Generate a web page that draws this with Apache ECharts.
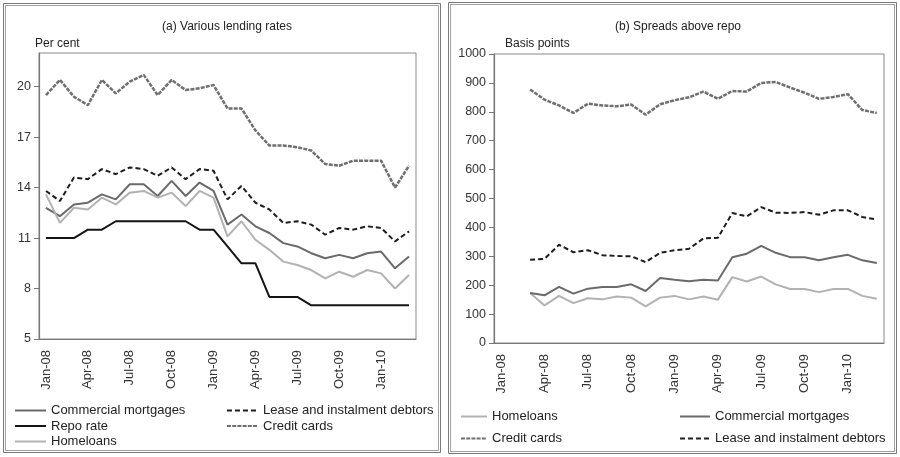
<!DOCTYPE html>
<html><head><meta charset="utf-8">
<script src="https://cdn.jsdelivr.net/npm/echarts@6/dist/echarts.min.js"></script>
<style>html,body{margin:0;padding:0;background:#fff}#c{width:900px;height:457px}</style>
</head><body><div id="c"></div>
<script>
var months = ['Jan-08','Feb-08','Mar-08','Apr-08','May-08','Jun-08','Jul-08','Aug-08','Sep-08','Oct-08','Nov-08','Dec-08',
  'Jan-09','Feb-09','Mar-09','Apr-09','May-09','Jun-09','Jul-09','Aug-09','Sep-09','Oct-09','Nov-09','Dec-09','Jan-10','Feb-10','Mar-10'];
var leftTicks = [5, 8, 11, 14, 17, 20];
var rightTicks = [0, 100, 200, 300, 400, 500, 600, 700, 800, 900, 1000];

// (a) Various lending rates, per cent
var rateCommercial = [12.8,12.3,13.0,13.1,13.6,13.3,14.2,14.2,13.5,14.4,13.5,14.3,13.8,11.8,12.4,11.7,11.3,10.7,10.5,10.1,9.8,10.0,9.8,10.1,10.2,9.2,9.9];
var rateLease = [13.8,13.2,14.6,14.5,15.1,14.8,15.2,15.1,14.7,15.2,14.5,15.1,15.0,13.3,14.1,13.1,12.7,11.9,12.0,11.8,11.2,11.6,11.5,11.7,11.6,10.8,11.4];
var rateRepo = [11,11,11,11.5,11.5,12,12,12,12,12,12,11.5,11.5,10.5,9.5,9.5,7.5,7.5,7.5,7,7,7,7,7,7,7,7];
var rateCredit = [19.5,20.4,19.4,18.9,20.4,19.6,20.3,20.7,19.5,20.4,19.8,19.9,20.1,18.7,18.7,17.4,16.5,16.5,16.4,16.2,15.4,15.3,15.6,15.6,15.6,14.0,15.3];
var rateHome = [13.6,11.9,12.8,12.7,13.4,13.0,13.7,13.8,13.4,13.7,12.9,13.8,13.4,11.1,12.0,10.9,10.3,9.6,9.4,9.1,8.6,9.0,8.7,9.1,8.9,8.0,8.8];

// (b) Spreads above repo, basis points
var sprHome = [null,null,173,130,163,138,155,151,161,157,127,157,163,151,161,150,228,213,230,203,187,187,176,187,187,163,153];
var sprCommercial = [null,null,173,165,194,171,188,194,194,203,180,225,219,214,219,216,297,309,336,312,297,297,286,297,305,286,277];
var sprCredit = [null,null,877,842,822,796,828,822,819,825,790,826,840,850,870,845,872,870,900,903,884,866,845,851,861,806,796];
var sprLease = [null,null,288,291,340,314,321,304,301,300,280,312,321,326,362,364,450,438,470,451,450,453,444,459,459,436,427];

var FONT = 'Liberation Sans, Arial, sans-serif';
var styles = {
  'Commercial mortgages': {color:'#6a6a6a', width:2, type:'solid'},
  'Lease and instalment debtors': {color:'#1e1e1e', width:2, type:[5,3]},
  'Repo rate': {color:'#141414', width:2, type:'solid'},
  'Credit cards': {color:'#6f6f6f', width:2.5, type:[4,1.2]},
  'Homeloans': {color:'#b2b2b2', width:2, type:'solid'}
};
function ser(name, data, idx) {
  var s = styles[name];
  return {name:name, type:'line', data:data, xAxisIndex:idx, yAxisIndex:idx, symbol:'none',
    smooth:false, connectNulls:false, animation:false,
    lineStyle:{color:s.color, width:s.width, type:s.type}, itemStyle:{color:s.color}};
}
function xAx(idx) {
  return {type:'category', gridIndex:idx, data:months, boundaryGap:true,
    axisLine:{lineStyle:{color:'#777', width:1.2}},
    axisTick:{interval:2, length:4, lineStyle:{color:'#777'}},
    axisLabel:{interval:2, rotate:90, margin:11, color:'#333', fontSize:13, fontFamily:FONT},
    splitLine:{show:false}};
}
function yAx(idx, min, max, interval) {
  return {type:'value', gridIndex:idx, min:min, max:max, interval:interval,
    axisLine:{show:true, lineStyle:{color:'#777', width:1.2}},
    axisTick:{show:true, length:5, lineStyle:{color:'#777'}},
    axisLabel:{color:'#333', fontSize:12.5, fontFamily:FONT, margin:8, showMaxLabel: idx===0 ? false : true,
      formatter:function(v){ return String(v); }},
    splitLine:{show:false}};
}
function leg(left, top, data, gap, iw, textGap) {
  return {left:left, top:top, orient:'vertical', data:data, itemWidth:iw, itemHeight:10, itemGap:gap,
    itemTextGap:textGap, selectedMode:false, padding:0,
    itemStyle:{opacity:0, borderWidth:0},
    textStyle:{color:'#222', fontSize:13, fontFamily:FONT, lineHeight:15}};
}
var chart = echarts.init(document.getElementById('c'), null, {renderer:'canvas'});
chart.setOption({
  animation:false,
  backgroundColor:'#fff',
  grid:[
    {left:39, right:484, top:53, bottom:118, show:true, borderColor:'#8a8a8a', borderWidth:1},
    {left:494, right:16, top:54, bottom:114, show:true, borderColor:'#8a8a8a', borderWidth:1}
  ],
  xAxis:[xAx(0), xAx(1)],
  yAxis:[yAx(0, 5, 22, 3), yAx(1, 0, 1000, 100)],
  legend:[
    leg(14, 403, ['Commercial mortgages','Repo rate','Homeloans'], 0.5, 31, 4),
    leg(226, 403, ['Lease and instalment debtors','Credit cards'], 0.5, 31, 4),
    leg(460, 409, ['Homeloans','Credit cards'], 7, 26, 10),
    leg(679, 409, ['Commercial mortgages','Lease and instalment debtors'], 7, 30, 6)
  ],
  series:[
    ser('Commercial mortgages', rateCommercial, 0),
    ser('Lease and instalment debtors', rateLease, 0),
    ser('Repo rate', rateRepo, 0),
    ser('Credit cards', rateCredit, 0),
    ser('Homeloans', rateHome, 0),
    ser('Homeloans', sprHome, 1),
    ser('Commercial mortgages', sprCommercial, 1),
    ser('Credit cards', sprCredit, 1),
    ser('Lease and instalment debtors', sprLease, 1)
  ],
  graphic:[
    {type:'rect', shape:{x:3.5, y:3.5, width:437, height:449}, style:{fill:null, stroke:'#7a7a7a', lineWidth:1}, silent:true},
    {type:'rect', shape:{x:5.5, y:5.5, width:433, height:445}, style:{fill:null, stroke:'#a0a0a0', lineWidth:1}, silent:true},
    {type:'rect', shape:{x:448.5, y:2.5, width:448, height:451}, style:{fill:null, stroke:'#7a7a7a', lineWidth:1}, silent:true},
    {type:'rect', shape:{x:450.5, y:4.5, width:444, height:447}, style:{fill:null, stroke:'#a0a0a0', lineWidth:1}, silent:true},
    {type:'text', x:227, y:27, style:{text:'(a) Various lending rates', fill:'#222', font:'12px '+FONT, textAlign:'center', textVerticalAlign:'middle'}},
    {type:'text', x:678, y:27, style:{text:'(b) Spreads above repo', fill:'#222', font:'12px '+FONT, textAlign:'center', textVerticalAlign:'middle'}},
    {type:'text', x:35, y:44, style:{text:'Per cent', fill:'#222', font:'12px '+FONT, textAlign:'left', textVerticalAlign:'middle'}},
    {type:'text', x:505, y:44, style:{text:'Basis points', fill:'#222', font:'12px '+FONT, textAlign:'left', textVerticalAlign:'middle'}}
  ]
});
</script></body></html>
